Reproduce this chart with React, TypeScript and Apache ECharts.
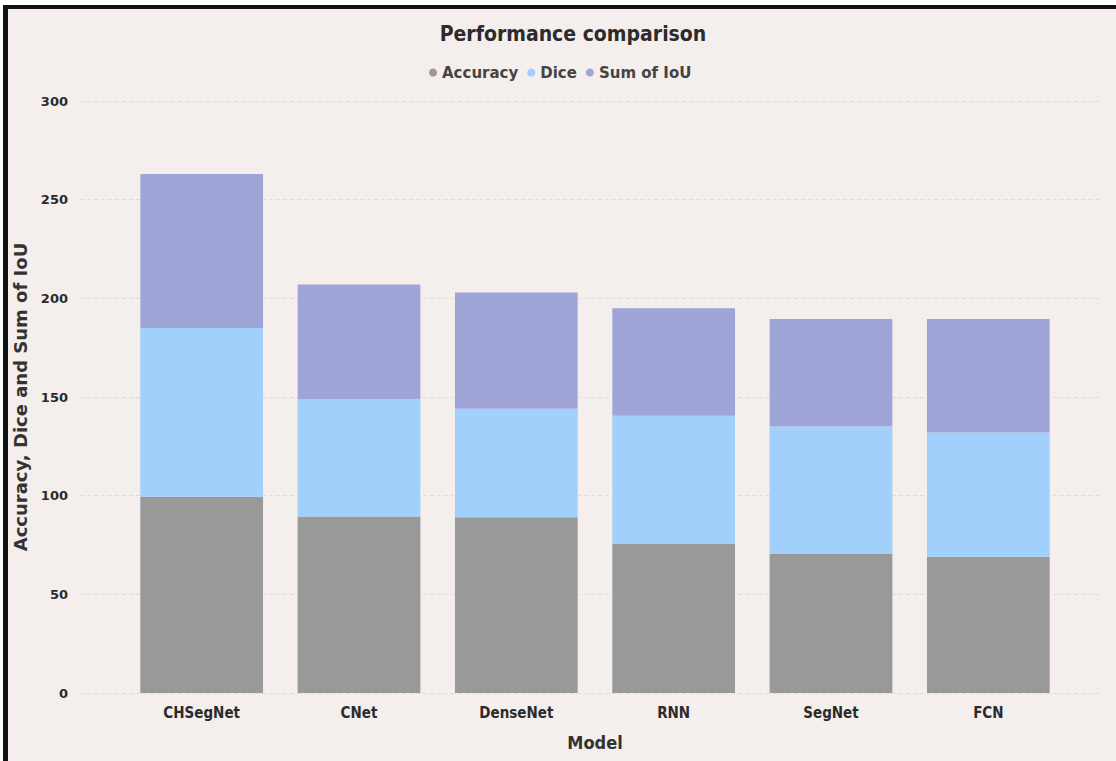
import React, { useEffect, useRef } from "react";
import * as echarts from "echarts";

const categories = ["CHSegNet", "CNet", "DenseNet", "RNN", "SegNet", "FCN"];
const accuracy = [99.5, 89.5, 89, 75.5, 70.5, 69];
const dice = [85.5, 59.5, 55, 65, 64.5, 63];
const sumIoU = [78, 58, 59, 54.5, 54.5, 57.5];
const yTicks = [0, 50, 100, 150, 200, 250, 300];

const BG = "#f4eeed";
const TEXT = "#2b2b2b";
const NARROW = "'Liberation Sans Narrow', 'DejaVu Sans Condensed', sans-serif";
const WIDE = "'DejaVu Sans', 'Open Sans', sans-serif";

export default function App() {
  const ref = useRef<HTMLDivElement>(null);
  useEffect(() => {
    if (!ref.current) return;
    const chart = echarts.init(ref.current, undefined, { renderer: "svg" });
    const yMin = yTicks[0];
    const yMax = yTicks[yTicks.length - 1];
    const interval = yTicks[1] - yTicks[0];
    chart.setOption({
      animation: false,
      backgroundColor: BG,
      title: {
        text: "Performance comparison",
        left: 568,
        textAlign: "center",
        top: 18,
        textStyle: { fontFamily: NARROW, fontWeight: "bold", fontSize: 21, color: TEXT },
      },
      legend: {
        top: 60,
        left: 424,
        icon: "circle",
        itemWidth: 8,
        itemHeight: 8,
        itemGap: 9,
        textStyle: { fontFamily: WIDE, fontWeight: "bold", fontSize: 15, color: "#444", padding: [0, 0, 0, 0] },
        data: ["Accuracy", "Dice", "Sum of IoU"],
      },
      grid: [
        { left: 80, right: 16, top: 101, bottom: 68 },
        { left: 123, right: 49, top: 101, bottom: 68 },
      ],
      xAxis: [
        { type: "category", gridIndex: 0, data: categories, show: false },
        {
          type: "category",
          gridIndex: 1,
          data: categories,
          axisLine: { show: false },
          axisTick: { show: false },
          axisLabel: { fontFamily: NARROW, fontWeight: "bold", fontSize: 15, color: TEXT, margin: 12 },
          name: "Model",
          nameLocation: "middle",
          nameGap: 40,
          nameTextStyle: { fontFamily: NARROW, fontWeight: "bold", fontSize: 18, color: "#333" },
        },
      ],
      yAxis: [
        {
          type: "value",
          gridIndex: 0,
          min: yMin,
          max: yMax,
          interval,
          axisLine: { show: false },
          axisTick: { show: false },
          axisLabel: { fontFamily: WIDE, fontWeight: "bold", fontSize: 13, color: TEXT, margin: 12 },
          splitLine: { show: true, lineStyle: { color: "#e3dbd9", type: [4, 3], width: 1 } },
          name: "Accuracy, Dice and Sum of IoU",
          nameLocation: "middle",
          nameGap: 48,
          nameTextStyle: { fontFamily: WIDE, fontWeight: "bold", fontSize: 18, color: "#333" },
        },
        {
          type: "value",
          gridIndex: 1,
          min: yMin,
          max: yMax,
          interval,
          show: false,
          splitLine: { show: false },
        },
      ],
      series: [
        { name: "Accuracy", type: "bar", stack: "s", xAxisIndex: 1, yAxisIndex: 1, data: accuracy, barCategoryGap: "22%", itemStyle: { color: "#999999" } },
        { name: "Dice", type: "bar", stack: "s", xAxisIndex: 1, yAxisIndex: 1, data: dice, barCategoryGap: "22%", itemStyle: { color: "#a0d0fb" } },
        { name: "Sum of IoU", type: "bar", stack: "s", xAxisIndex: 1, yAxisIndex: 1, data: sumIoU, barCategoryGap: "22%", itemStyle: { color: "#9fa5d7" } },
      ],
      graphic: [
        { type: "rect", z: 100, shape: { x: 0, y: 0, width: 1116, height: 5 }, style: { fill: "#ffffff" } },
        { type: "rect", z: 100, shape: { x: 0, y: 0, width: 3, height: 761 }, style: { fill: "#ffffff" } },
        { type: "rect", z: 101, shape: { x: 3, y: 5, width: 1113, height: 4 }, style: { fill: "#111111" } },
        { type: "rect", z: 101, shape: { x: 3, y: 5, width: 5, height: 756 }, style: { fill: "#111111" } },
      ],
    });
    return () => chart.dispose();
  }, []);
  return (
    <div
      ref={ref}
      style={{ position: "fixed", left: 0, top: 0, width: 1116, height: 761 }}
    />
  );
}
